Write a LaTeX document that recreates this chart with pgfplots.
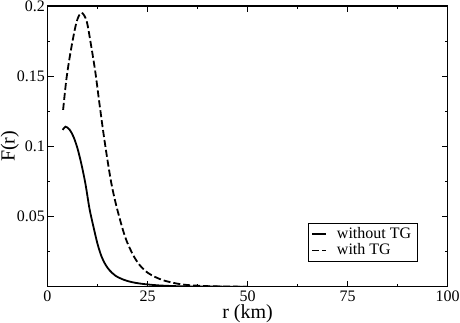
\documentclass[border=0pt]{standalone}
\usepackage{fontspec}
\setmainfont{Liberation Serif}
\usepackage{pgfplots}
\pgfplotsset{compat=1.18}

\newcommand{\chartfont}{\fontsize{8}{9.6}\selectfont}

\begin{document}
\begin{tikzpicture}
	\begin{axis}[
			at={(0,0)}, anchor=south west,
			scale only axis,
			width=200.1pt, height=140.35pt,
			xmin=0, xmax=100, ymin=0, ymax=0.2,
			xtick={0,25,50,75,100},
			minor xtick={12.5,37.5,62.5,87.5},
			ytick={0.05,0.1,0.15,0.2},
			minor ytick={0.025,0.075,0.125,0.175},
			tick align=inside, tick pos=both,
			major tick length=3pt, minor tick length=1.5pt,
			every tick/.style={black, line width=0.5pt},
			axis line style={line width=0.7pt},
			/pgf/number format/assume math mode=true,
			yticklabel style={/pgf/number format/fixed, xshift=2.2pt},
			xticklabel style={inner ysep=1pt, yshift=-0.8pt},
			tick label style={font=\chartfont},
			label style={font=\chartfont},
			xlabel={r (km)},
			ylabel={F(r)},
			every axis x label/.style={at={(axis description cs:0.5,-0.097)}, anchor=center, inner sep=0.5pt},
			every axis y label/.style={at={(axis description cs:-0.094,0.5)}, anchor=center, rotate=90},
			legend style={at={(0.926,0.089)}, anchor=south east, draw=black,
					line width=0.5pt, font=\chartfont, inner sep=1.2pt,
					row sep=0pt, column sep=3pt, nodes={inner ysep=0.6pt, inner xsep=2pt},
					cells={anchor=west}},
			legend image code/.code={\draw[#1] (0pt,0pt) -- (7pt,0pt);},
		]
		% without TG
		\addplot[black, line width=0.9pt, smooth] coordinates {
				(3.8,0.1117) (4.5,0.1140) (5.5,0.1120) (6.5,0.1068) (7.5,0.0985)
				(8.5,0.0870) (9.5,0.0730) (10.5,0.0555) (11.5,0.0425) (12.5,0.0305)
				(13.5,0.0215) (14.5,0.0157) (15.5,0.0117) (17.0,0.0078) (19.0,0.0050)
				(21.0,0.0033) (23.0,0.0023) (25.0,0.0016) (28.0,0.0009) (32.0,0.0004)
				(38.0,0.0001) (50.0,0.0)
			};
		% with TG
		\addplot[black, line width=0.9pt, smooth, dash pattern=on 3.5pt off 1.5pt] coordinates {
				(3.9,0.126) (4.8,0.1496) (6.0,0.171) (7.3,0.189) (8.5,0.1952)
				(9.8,0.189) (11.0,0.170) (12.0,0.152) (13.0,0.130) (14.0,0.109)
				(15.0,0.090) (16.0,0.073) (17.0,0.060) (18.0,0.049) (19.0,0.039)
				(20.0,0.031) (21.5,0.022) (23.0,0.0155) (25.0,0.0100) (27.0,0.0068)
				(29.0,0.0045) (32.0,0.0024) (35.0,0.0012) (40.0,0.0004) (45.0,0.0001)
				(50.0,0.0)
			};
		\legend{without TG, with TG}
	\end{axis}
	\pgfresetboundingbox
	\path[use as bounding box] (-23.75pt,-17.65pt) rectangle (206.25pt,143.35pt);
\end{tikzpicture}
\end{document}
